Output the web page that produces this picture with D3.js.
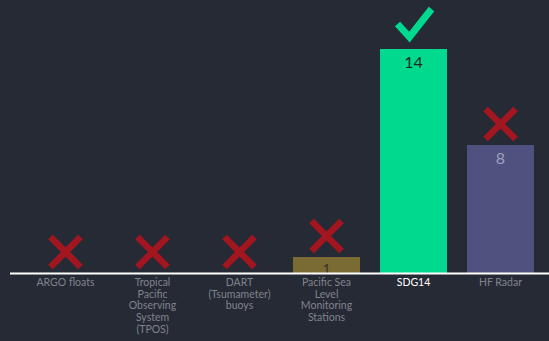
<!DOCTYPE html>
<html>
<head>
<meta charset="utf-8">
<script src="https://cdn.jsdelivr.net/npm/d3@7"></script>
<style>
  html, body { margin: 0; padding: 0; background: #262a35; }
  svg { display: block; }
</style>
</head>
<body>
<svg id="chart" width="549" height="341"></svg>
<script>
// Ocean-observing systems and how many they count
const categories = [
  ["ARGO floats"],
  ["Tropical", "Pacific", "Observing", "System", "(TPOS)"],
  ["DART", "(Tsumameter)", "buoys"],
  ["Pacific Sea", "Level", "Monitoring", "Stations"],
  ["SDG14"],
  ["HF Radar"]
];
const values = [0, 0, 0, 1, 14, 8];
const status = ["cross", "cross", "cross", "cross", "check", "cross"];
const barColors = ["#7a6a34", "#7a6a34", "#7a6a34", "#7a6a34", "#00d98e", "#4f527f"];
const valueColors = ["#3a3320", "#3a3320", "#3a3320", "#3a3320", "#1b2a24", "#9da0bf"];

const W = 549, H = 341;
const svg = d3.select("#chart");

const keys = categories.map((c, i) => i);
const x = d3.scaleBand().domain(keys).range([22, 544]).paddingInner(0.23).paddingOuter(0.115);
const y = d3.scaleLinear().domain([0, 14]).range([273, 49]);

// bars
svg.selectAll("rect.bar")
  .data(values.map((v, i) => ({ v, i })).filter(d => d.v > 0))
  .join("rect")
  .attr("class", "bar")
  .attr("x", d => x(d.i))
  .attr("width", x.bandwidth())
  .attr("y", d => y(d.v))
  .attr("height", d => y(0) - y(d.v))
  .attr("fill", d => barColors[d.i]);

// value labels inside the bars
svg.selectAll("text.val")
  .data(values.map((v, i) => ({ v, i })).filter(d => d.v > 0))
  .join("text")
  .attr("class", "val")
  .attr("x", d => x(d.i) + x.bandwidth() / 2)
  .attr("y", d => y(d.v) + (d.v > 1 ? 19 : 17))
  .attr("text-anchor", "middle")
  .attr("font-family", "Lato, 'Open Sans', sans-serif")
  .attr("font-size", d => d.v > 1 ? 16 : 14)
  .attr("fill", d => valueColors[d.i])
  .text(d => d.v);

// baseline
svg.append("line")
  .attr("x1", 10).attr("x2", W)
  .attr("y1", y(0) + 0.5).attr("y2", y(0) + 0.5)
  .attr("stroke", "#ffffff").attr("stroke-width", 2);

// category labels
const labels = svg.selectAll("text.cat")
  .data(categories.map((lines, i) => ({ lines, i })))
  .join("text")
  .attr("class", "cat")
  .attr("text-anchor", "middle")
  .attr("font-family", "Lato, 'Open Sans', sans-serif")
  .attr("font-size", 10.5)
  .attr("fill", d => status[d.i] === "check" ? "#ffffff" : "#80838b");
labels.selectAll("tspan")
  .data(d => d.lines.map(t => ({ t, i: d.i })))
  .join("tspan")
  .attr("x", d => x(d.i) + x.bandwidth() / 2)
  .attr("y", (d, j) => 286 + j * 11.7)
  .text(d => d.t);

// markers above each bar
const markers = svg.selectAll("g.marker")
  .data(values.map((v, i) => ({ v, i })))
  .join("g")
  .attr("class", "marker")
  .attr("transform", d => `translate(${x(d.i) + x.bandwidth() / 2},${y(d.v) - (status[d.i] === "check" ? 24 : 21)})`);

markers.filter(d => status[d.i] === "cross")
  .append("path")
  .attr("d", "M-15,-15L15,15M15,-15L-15,15")
  .attr("stroke", "#a3151f")
  .attr("stroke-width", 6.5)
  .attr("fill", "none");

markers.filter(d => status[d.i] === "check")
  .append("path")
  .attr("d", "M-16,-1L-4,12L18,-16")
  .attr("stroke", "#00d98e")
  .attr("stroke-width", 7)
  .attr("stroke-linejoin", "miter")
  .attr("fill", "none");
</script>
</body>
</html>
